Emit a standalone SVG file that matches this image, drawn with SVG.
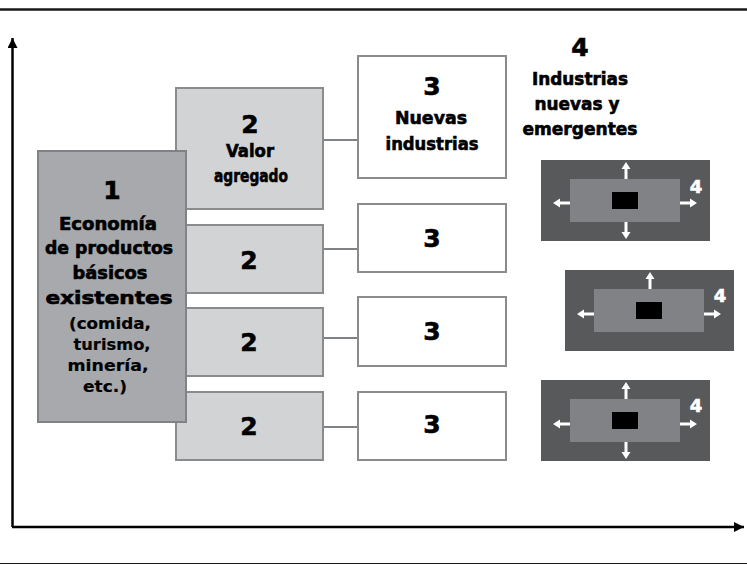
<svg xmlns="http://www.w3.org/2000/svg" xmlns:xlink="http://www.w3.org/1999/xlink" width="747" height="565" viewBox="0 0 747 565">
<style>
.t{font-family:"DejaVu Sans","Liberation Sans",Arial,sans-serif;font-weight:700;fill:#000;stroke:#000;stroke-width:0.6;text-anchor:middle}
.big{font-size:25px}
.lab{font-size:17px}
.sm{font-size:15px;stroke-width:0.2}
.n1{fill:#a7a9ac;stroke:#808285;stroke-width:2}
.n2{fill:#d1d3d4;stroke:#8a8b8d;stroke-width:2}
.n3{fill:#fff;stroke:#8a8b8d;stroke-width:2}
.conn{stroke:#808285;stroke-width:2;fill:none}
.dk{fill:#58595b}
.md{fill:#808285}
.w4{font-family:"DejaVu Sans","Liberation Sans",Arial,sans-serif;font-weight:700;font-size:18px;fill:#fff;stroke:#fff;stroke-width:0.6;text-anchor:middle}
</style>
<defs>
<path id="arr" d="M0,-1.5 H10 V-4.5 L17,0 L10,4.5 V1.5 H0 Z" fill="#fff"/>
<marker id="ah" viewBox="0 0 10 10" refX="10" refY="5" markerWidth="10" markerHeight="10" markerUnits="userSpaceOnUse" orient="auto">
<path d="M0,0 L10,5 L0,10 Z" fill="#000"/>
</marker>
</defs>
<rect width="747" height="565" fill="#fff"/>
<g id="frame">
<line x1="0" y1="9.5" x2="747" y2="9.5" stroke="#1a1a1a" stroke-width="2.5"/>
<line x1="0" y1="563.5" x2="747" y2="563.5" stroke="#1a1a1a" stroke-width="1"/>
</g>
<g id="axes">
<line x1="12.5" y1="527" x2="12.5" y2="38" stroke="#000" stroke-width="2.5" marker-end="url(#ah)"/>
<line x1="12" y1="527" x2="744" y2="527" stroke="#000" stroke-width="2.5" marker-end="url(#ah)"/>
</g>
<g id="connectors">
<line class="conn" x1="323" y1="140" x2="358" y2="140"/>
<line class="conn" x1="323" y1="249" x2="358" y2="249"/>
<line class="conn" x1="323" y1="338" x2="358" y2="338"/>
<line class="conn" x1="323" y1="427" x2="358" y2="427"/>
</g>
<g id="node2a">
<rect class="n2" x="176" y="88" width="147" height="121"/>
<text class="t big" x="250" y="133">2</text>
<text class="t lab" x="250" y="157" textLength="48" lengthAdjust="spacingAndGlyphs">Valor</text>
<text class="t lab" x="251" y="182" textLength="74" lengthAdjust="spacingAndGlyphs">agregado</text>
</g>
<g id="node2b">
<rect class="n2" x="176" y="225" width="147" height="68"/>
<text class="t big" x="249" y="269">2</text>
</g>
<g id="node2c">
<rect class="n2" x="176" y="308" width="147" height="68"/>
<text class="t big" x="249" y="351">2</text>
</g>
<g id="node2d">
<rect class="n2" x="176" y="392" width="147" height="68"/>
<text class="t big" x="249" y="435">2</text>
</g>
<g id="node1">
<rect class="n1" x="38" y="151" width="148" height="271"/>
<text class="t big" x="112" y="199">1</text>
<text class="t lab" x="108" y="230" textLength="98" lengthAdjust="spacingAndGlyphs">Economía</text>
<text class="t lab" x="109" y="254" textLength="128" lengthAdjust="spacingAndGlyphs">de productos</text>
<text class="t lab" x="110" y="279" textLength="75" lengthAdjust="spacingAndGlyphs">básicos</text>
<text class="t lab" x="109" y="304" textLength="127" lengthAdjust="spacingAndGlyphs">existentes</text>
<text class="t sm" x="110" y="329" textLength="82" lengthAdjust="spacingAndGlyphs">(comida,</text>
<text class="t sm" x="112" y="350" textLength="77" lengthAdjust="spacingAndGlyphs">turismo,</text>
<text class="t sm" x="108" y="371" textLength="81" lengthAdjust="spacingAndGlyphs">minería,</text>
<text class="t sm" x="105" y="392" textLength="44" lengthAdjust="spacingAndGlyphs">etc.)</text>
</g>
<g id="node3a">
<rect class="n3" x="358" y="56" width="148" height="122"/>
<text class="t big" x="432" y="95">3</text>
<text class="t lab" x="431" y="124" textLength="72" lengthAdjust="spacingAndGlyphs">Nuevas</text>
<text class="t lab" x="432" y="150" textLength="93" lengthAdjust="spacingAndGlyphs">industrias</text>
</g>
<g id="node3b">
<rect class="n3" x="358" y="204" width="148" height="68"/>
<text class="t big" x="432" y="247">3</text>
</g>
<g id="node3c">
<rect class="n3" x="358" y="297" width="148" height="69"/>
<text class="t big" x="432" y="340">3</text>
</g>
<g id="node3d">
<rect class="n3" x="358" y="392" width="148" height="68"/>
<text class="t big" x="432" y="433">3</text>
</g>
<g id="label4">
<text class="t big" x="580" y="56">4</text>
<text class="t lab" x="580" y="85" textLength="96" lengthAdjust="spacingAndGlyphs">Industrias</text>
<text class="t lab" x="577" y="110" textLength="85" lengthAdjust="spacingAndGlyphs">nuevas y</text>
<text class="t lab" x="580" y="135" textLength="115" lengthAdjust="spacingAndGlyphs">emergentes</text>
</g>
<g id="box4a">
<rect class="dk" x="541" y="160" width="169" height="81"/>
<rect class="md" x="570" y="179" width="110" height="43"/>
<rect x="612" y="192" width="26" height="17" fill="#000"/>
<use xlink:href="#arr" transform="translate(626,179) rotate(-90)"/>
<use xlink:href="#arr" transform="translate(626,222) rotate(90)"/>
<use xlink:href="#arr" transform="translate(570,203) rotate(180)"/>
<use xlink:href="#arr" transform="translate(680,203)"/>
<text class="w4" x="696" y="193">4</text>
</g>
<g id="box4b">
<rect class="dk" x="565" y="270" width="169" height="81"/>
<rect class="md" x="594" y="289" width="110" height="43"/>
<rect x="636" y="302" width="26" height="17" fill="#000"/>
<use xlink:href="#arr" transform="translate(650,289) rotate(-90)"/>
<use xlink:href="#arr" transform="translate(594,314) rotate(180)"/>
<use xlink:href="#arr" transform="translate(704,314)"/>
<text class="w4" x="720" y="302">4</text>
</g>
<g id="box4c">
<rect class="dk" x="541" y="380" width="169" height="81"/>
<rect class="md" x="570" y="399" width="110" height="43"/>
<rect x="612" y="412" width="26" height="17" fill="#000"/>
<use xlink:href="#arr" transform="translate(626,399) rotate(-90)"/>
<use xlink:href="#arr" transform="translate(626,442) rotate(90)"/>
<use xlink:href="#arr" transform="translate(570,424) rotate(180)"/>
<use xlink:href="#arr" transform="translate(680,424)"/>
<text class="w4" x="696" y="412">4</text>
</g>
</svg>
